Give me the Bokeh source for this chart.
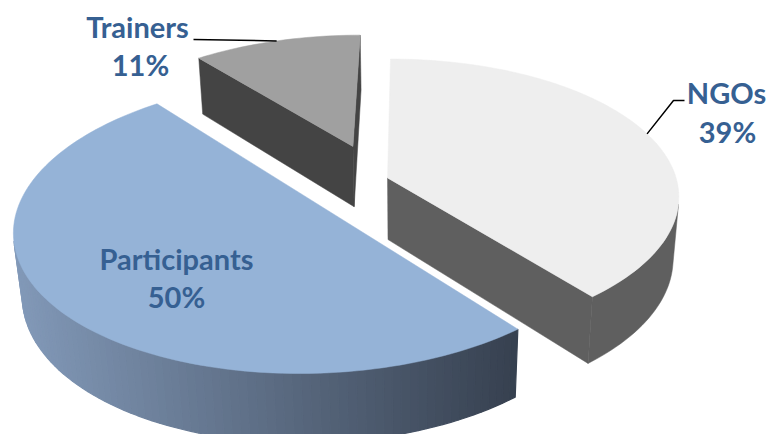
import numpy as np
from bokeh.plotting import figure
from bokeh.models import Range1d, ColumnDataSource
from bokeh.core.properties import value
from bokeh.embed import file_html
from bokeh.resources import INLINE

# ---- data ----
categories = ["NGOs", "Participants", "Trainers"]
values = [39, 50, 11]
pct_labels = [f"{v}%" for v in values]

# ---- styling / 3D view settings ----
top_colors = ["#EEEEEE", "#95B3D7", "#A0A0A0"]
side_colors = ["#5F5F5F", None, "#444444"]       # None -> gradient
grad_left = np.array([0x82, 0x99, 0xB8])
grad_right = np.array([0x36, 0x40, 0x4F])
explode = [0.0386, 0.2626, 0.2671]               # per-slice explosion (radius units)
ELEV = 0.5306        # camera elevation (rad)
PERSP = 0.1695       # perspective strength
SCALE = 283.0        # pixels per radius
CX, CY = 409.73, 240.94
CAMX = 0.115
DEPTH = 0.2477       # pie thickness (radius units)
W, Hpx = 767, 434

cum = np.cumsum([0] + values) / np.sum(values) * 2 * np.pi
a0s, a1s = cum[:-1], cum[1:]
mids = (a0s + a1s) / 2


def proj(X, Y, Z):
    up = Y * np.cos(ELEV) - Z * np.sin(ELEV)
    t = Y * np.sin(ELEV) + Z * np.cos(ELEV)
    w = 1 - PERSP * t
    return CX + SCALE * (X - CAMX) / w, CY - SCALE * up / w


def offs(i):
    e = explode[i]
    return e * np.sin(mids[i]), -e * np.cos(mids[i])


cam = np.array([CAMX, np.sin(ELEV) / PERSP, np.cos(ELEV) / PERSP])


def hexc(c):
    return "#%02X%02X%02X" % tuple(int(round(v)) for v in c)


p = figure(width=W, height=Hpx, x_range=Range1d(0, W), y_range=Range1d(Hpx, 0),
           output_backend="svg", toolbar_location=None, min_border=0,
           x_axis_type=None, y_axis_type=None)
p.outline_line_color = None
p.background_fill_color = "white"
p.border_fill_color = "white"

# far slices first
order = sorted(range(3), key=lambda i: offs(i)[1] - np.cos(mids[i]) * 0.5)
xs, ys, fc, lw = [], [], [], []
for i in order:
    ox, oz = offs(i)
    n = max(8, int(np.degrees(a1s[i] - a0s[i]) / 1.5))
    th = np.linspace(a0s[i], a1s[i], n)
    Xa, Za = ox + np.sin(th), oz - np.cos(th)
    tx, ty = proj(Xa, DEPTH, Za)
    bx, by = proj(Xa, 0.0, Za)
    xmin, xmax = tx.min(), tx.max()
    # radial cut faces
    for ang, sgn in ((a0s[i], -1), (a1s[i], 1)):
        nrm = np.array([np.sin(ang + sgn * np.pi / 2), 0, -np.cos(ang + sgn * np.pi / 2)])
        c = np.array([ox, DEPTH / 2, oz])
        if nrm @ (cam - c) > 0:
            ex, ez = ox + np.sin(ang), oz - np.cos(ang)
            qx, qy = proj(np.array([ox, ex, ex, ox]), np.array([DEPTH, DEPTH, 0, 0]),
                          np.array([oz, ez, ez, oz]))
            col = side_colors[i] if side_colors[i] else hexc(grad_right)
            xs.append(list(qx)); ys.append(list(qy)); fc.append(col); lw.append(0.5)
    # outer wall
    vis = []
    for j in range(n - 1):
        m = (th[j] + th[j + 1]) / 2
        nrm = np.array([np.sin(m), 0, -np.cos(m)])
        c = np.array([ox + np.sin(m), DEPTH / 2, oz - np.cos(m)])
        vis.append(nrm @ (cam - c) > 0)
    idx = [j for j in range(n - 1) if vis[j]]
    if idx:
        if side_colors[i]:
            j0, j1 = idx[0], idx[-1] + 1
            xs.append(list(tx[j0:j1 + 1]) + list(bx[j0:j1 + 1][::-1]))
            ys.append(list(ty[j0:j1 + 1]) + list(by[j0:j1 + 1][::-1]))
            fc.append(side_colors[i]); lw.append(0.5)
        else:
            for j in idx:
                f = ((tx[j] + tx[j + 1]) / 2 - xmin) / (xmax - xmin)
                col = hexc(grad_left + (grad_right - grad_left) * f)
                xs.append([tx[j], tx[j + 1], bx[j + 1], bx[j]])
                ys.append([ty[j], ty[j + 1], by[j + 1], by[j]])
                fc.append(col); lw.append(1.2)
    # top face
    cx0, cy0 = proj(ox, DEPTH, oz)
    xs.append([cx0] + list(tx)); ys.append([cy0] + list(ty)); fc.append(top_colors[i]); lw.append(0.5)

src = ColumnDataSource(dict(xs=xs, ys=ys, fc=fc, lw=lw))
p.patches("xs", "ys", source=src, fill_color="fc", line_color="fc", line_width="lw")

# leader lines to slice mid-angles
lead = []
for i in range(3):
    ox, oz = offs(i)
    lead.append(proj(ox + np.sin(mids[i]), DEPTH, oz - np.cos(mids[i])))
p.line([193, lead[2][0]], [39, lead[2][1]], line_color="black", line_width=1.5)
p.line([684, 673, lead[0][0]], [100, 100, lead[0][1]], line_color="black", line_width=1.5)

name_pos = {"NGOs": (726, 92), "Participants": (176, 258), "Trainers": (137, 26)}
pct_pos = {"NGOs": (727, 131), "Participants": (176, 296), "Trainers": (140, 64)}
for cat, lab in zip(categories, pct_labels):
    for txt, (x, y) in ((cat, name_pos[cat]), (lab, pct_pos[cat])):
        p.text([x], [y], text=[txt], text_align="center", text_baseline="alphabetic",
               text_font=value("Lato"), text_font_style="bold", text_font_size="29px",
               text_color="#366092")

open("out.html", "w").write(file_html(p, INLINE))
